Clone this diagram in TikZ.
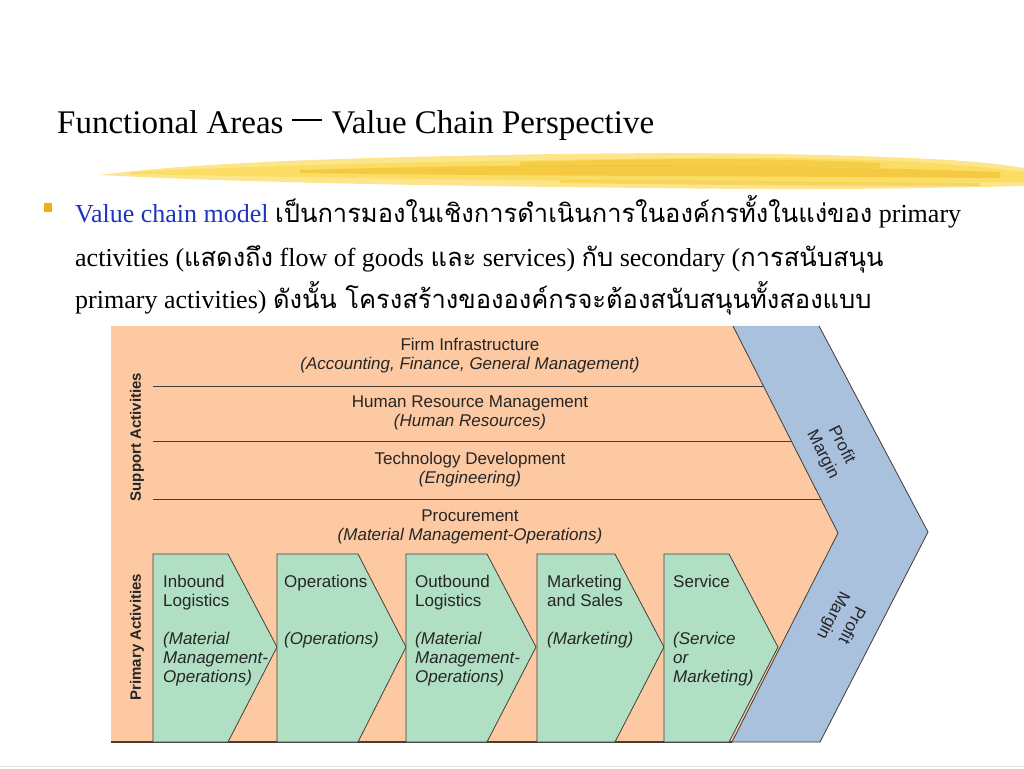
\documentclass[tikz,border=0pt]{standalone}
\usepackage{fontspec}
\setmainfont{Liberation Serif}
\setsansfont{Liberation Sans}
\newfontfamily\thaifont[Script=Thai]{Loma}
\usetikzlibrary{positioning}
\definecolor{chainorange}{RGB}{252,201,162}
\definecolor{primgreen}{RGB}{176,223,196}
\definecolor{marginblue}{RGB}{169,193,220}
\definecolor{edgegray}{RGB}{70,62,56}
\definecolor{modelblue}{RGB}{28,52,190}
\definecolor{brushyellow}{RGB}{250,212,60}
\definecolor{brushgold}{RGB}{236,176,20}
\newcommand{\thai}[1]{{\thaifont\fontsize{25.5}{28}\selectfont #1}}

\begin{document}
\begin{tikzpicture}
                [
                    x=1pt, y=-1pt,
                    rowtitle/.style = {font=\sffamily\fontsize{17}{19}\selectfont, text=black!85, inner sep=0pt, text height=12.5pt, text depth=3.5pt},
                    rowsub/.style = {rowtitle, font=\sffamily\itshape\fontsize{17}{19}\selectfont},
                    sidelabel/.style = {font=\sffamily\bfseries\fontsize{15}{17}\selectfont, text=black!85, rotate=90, inner sep=0pt},
                    primtext/.style = {font=\sffamily\fontsize{17}{19}\selectfont, text=black!85, align=left, anchor=north west, inner sep=0pt},
                    primary/.style = {fill=primgreen, draw=edgegray, line width=0.8pt},
                    margintext/.style = {font=\sffamily\fontsize{17}{21}\selectfont, text=black!85, align=center, inner sep=0pt},
                    bodyline/.style = {font=\fontsize{26}{30}\selectfont, anchor=base west, inner sep=0pt}
                ]
                \useasboundingbox (0,0) rectangle (1024,768);

                % title and brush stroke
                \node (title) [font=\fontsize{33}{36}\selectfont, anchor=base west, inner sep=0pt] at (57,133) {Functional Areas\hspace{8pt}\rule[12pt]{30pt}{2.4pt}\hspace{10pt}Value Chain Perspective};
                \fill[brushyellow, opacity=0.6] (100,175) .. controls (200,162) and (350,158) .. (500,155) .. controls (650,152) and (800,152) .. (950,160) .. controls (990,163) .. (1024,168) -- (1024,186) .. controls (900,189) and (800,190) .. (650,188) .. controls (450,186) and (250,183) .. (100,175) -- cycle;
                \fill[brushyellow, opacity=0.5] (130,172) .. controls (300,164) and (500,160) .. (700,158) .. controls (850,157) and (950,162) .. (1024,172) -- (1024,182) .. controls (800,184) and (500,181) .. (130,174) -- cycle;
                \fill[brushgold, opacity=0.4] (300,170) .. controls (500,164) and (750,163) .. (1000,172) -- (1000,178) .. controls (750,176) and (500,176) .. (300,173) -- cycle;
                \fill[brushgold, opacity=0.35] (520,162) .. controls (650,158) and (780,158) .. (880,163) -- (880,168) .. controls (760,166) and (640,166) .. (520,166) -- cycle;
                \fill[brushgold, opacity=0.3] (560,180) .. controls (700,181) and (850,182) .. (980,183) -- (980,186) .. controls (850,186) and (700,185) .. (560,183) -- cycle;

                % bullet text
                \fill[brushgold] (44,203) rectangle (52,212);
                \node (line1) [bodyline] at (75,222) {\textcolor{modelblue}{Value chain model} \thai{เป็นการมองในเชิงการดำเนินการในองค์กรทั้งในแง่ของ} primary};
                \node (line2) [bodyline] at (75,266) {activities (\thai{แสดงถึง} flow of goods \thai{และ} services) \thai{กับ} secondary (\thai{การสนับสนุน}};
                \node (line3) [bodyline] at (75,308) {primary activities) \thai{ดังนั้น โครงสร้างขององค์กรจะต้องสนับสนุนทั้งสองแบบ}};

                % value chain
                \fill[chainorange] (111,326) -- (733,326) -- (838,533) -- (732,742) -- (111,742) -- cycle;
                \draw[edgegray, line width=1.2pt] (111,742) -- (732,742);
                \draw[marginblue, fill=marginblue] (733,326) -- (819,326) -- (928,532) -- (820,742) -- (732,742) -- (838,533) -- cycle;
                \draw[edgegray, line width=0.8pt] (733,326) -- (838,533) -- (732,742) -- (820,742) -- (928,532) -- (819,326);
                \draw[edgegray, line width=0.8pt] (153,386) -- (763,386);
                \draw[edgegray, line width=0.8pt] (153,441) -- (791,441);
                \draw[edgegray, line width=0.8pt] (153,499) -- (821,499);

                \node (firm) [rowtitle, anchor=base] at (470,350) {Firm Infrastructure};
                \node (firmsub) [rowsub, below=3pt of firm] {(Accounting, Finance, General Management)};
                \node (hrm) [rowtitle, anchor=base] at (470,407) {Human Resource Management};
                \node (hrmsub) [rowsub, below=3pt of hrm] {(Human Resources)};
                \node (tech) [rowtitle, anchor=base] at (470,464) {Technology Development};
                \node (techsub) [rowsub, below=3pt of tech] {(Engineering)};
                \node (proc) [rowtitle, anchor=base] at (470,521) {Procurement};
                \node (procsub) [rowsub, below=3pt of proc] {(Material Management-Operations)};

                \node (support) [sidelabel] at (137,437) {Support Activities};
                \node (primacts) [sidelabel] at (137,637) {Primary Activities};

                \foreach \l/\r/\t in {153/228/277, 277/358/406, 406/487/536, 537/615/664, 664/729/778}
                    \draw[primary] (\l,554) -- (\r,554) -- (\t,647) -- (\r,742) -- (\l,742) -- cycle;

                \node (inbound) [primtext] at (163,575) {Inbound\\Logistics\\[19pt]\itshape(Material\\\itshape Management-\\\itshape Operations)};
                \node (operations) [primtext] at (284,575) {Operations\\[38pt]\itshape(Operations)};
                \node (outbound) [primtext] at (415,575) {Outbound\\Logistics\\[19pt]\itshape(Material\\\itshape Management-\\\itshape Operations)};
                \node (marketing) [primtext] at (547,575) {Marketing\\and Sales\\[19pt]\itshape(Marketing)};
                \node (service) [primtext] at (673,575) {Service\\[38pt]\itshape(Service\\\itshape or\\\itshape Marketing)};

                \node (margintop) [margintext, rotate=-63] at (832,450) {Profit\\Margin};
                \node (marginbot) [margintext, rotate=-117] at (842,620) {Profit\\Margin};

                \draw[black!10, line width=1pt] (0,766) -- (1024,766);
            \end{tikzpicture}
\end{document}
